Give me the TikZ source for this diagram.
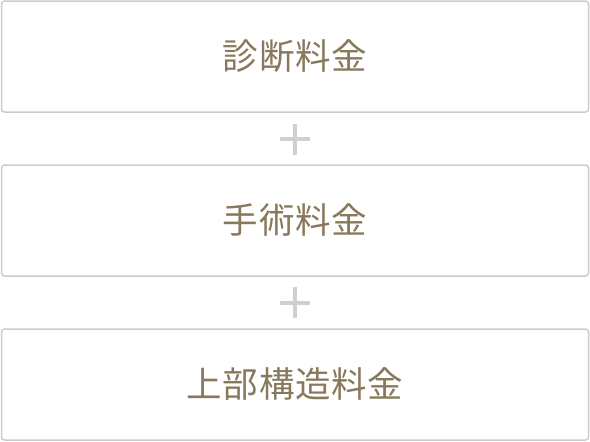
\documentclass[tikz,border=0pt]{standalone}
\usepackage{fontspec}
\newfontfamily\cjk[LetterSpace=2]{Noto Sans CJK JP}
\definecolor{boxline}{RGB}{204,204,204}
\definecolor{plusgray}{RGB}{208,208,208}
\definecolor{textbrown}{RGB}{136,121,92}
\tikzset{
  feebox/.style={draw=boxline, line width=1.5pt, rounded corners=3pt, fill=white,
    minimum width=587pt, minimum height=111pt, inner sep=0pt,
    font=\cjk\fontsize{35.5pt}{40pt}\selectfont, text=textbrown},
  plusbar/.style={draw=plusgray, line width=4pt}
}
\begin{document}
\begin{tikzpicture}[x=1pt,y=-1pt]
\useasboundingbox (0,0) rectangle (590,442);
\node[feebox] (b1) at (295,56.5) {\raisebox{-1.5pt}{診断料金}};
\node[feebox] (b2) at (295,220.5) {\raisebox{-1.5pt}{手術料金}};
\node[feebox] (b3) at (295,384.5) {\raisebox{-1.5pt}{上部構造料金}};
\coordinate (p1) at (295,139);
\coordinate (p2) at (295,302.5);
\foreach \p in {p1,p2}{
  \draw[plusbar] ([xshift=-15pt]\p) -- ([xshift=15pt]\p);
  \draw[plusbar] ([yshift=-15.5pt]\p) -- ([yshift=15.5pt]\p);
}
\end{tikzpicture}
\end{document}
